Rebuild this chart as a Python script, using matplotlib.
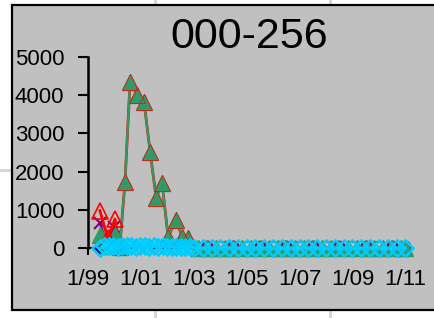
import numpy as np
import matplotlib
matplotlib.use("Agg")
import matplotlib.pyplot as plot
from matplotlib.patches import Rectangle
from matplotlib.lines import Line2D

TITLE = "000-256"
X_TICKS = [1999, 2001, 2003, 2005, 2007, 2009, 2011]
X_TICK_LABELS = ["1/99", "1/01", "1/03", "1/05", "1/07", "1/09", "1/11"]
Y_TICKS = [0, 1000, 2000, 3000, 4000, 5000]

# dates as decimal years
early_dates = [1999.45, 1999.62, 1999.79, 1999.96, 2000.13, 2000.3, 2000.47, 2000.64,
               2000.81, 2000.98, 2001.15, 2001.32, 2001.49, 2001.66, 2001.83, 2002.0,
               2002.17, 2002.34, 2002.51, 2002.68, 2002.85, 2003.02]
late_dates = [2003.33, 2003.67, 2004.0, 2004.33, 2004.67, 2005.0, 2005.33, 2005.67,
              2006.0, 2006.33, 2006.67, 2007.0, 2007.33, 2007.67, 2008.0, 2008.33,
              2008.67, 2009.0, 2009.33, 2009.67, 2010.0, 2010.33, 2010.67, 2011.0]
late_dates_green = [2003.17, 2003.5, 2003.83, 2004.17, 2004.5, 2004.83, 2005.17, 2005.5,
                    2005.83, 2006.17, 2006.5, 2006.83, 2007.17, 2007.5, 2007.83, 2008.17,
                    2008.5, 2008.83, 2009.17, 2009.5, 2009.83, 2010.17, 2010.5, 2010.83, 2011.0]

navy_x = early_dates[:6]
navy_y = [0] * len(navy_x)

purple_x = [1999.45, 1999.7, 2000.0, 2000.2, 2000.45, 2000.7, 2000.95, 2001.2, 2001.45,
            2001.7, 2001.95, 2002.2, 2002.45, 2002.7, 2002.95,
            2003.5, 2004.0, 2004.5, 2005.0, 2005.5, 2006.0, 2006.5, 2007.0, 2007.5,
            2008.0, 2008.5, 2009.0, 2009.5, 2010.0, 2010.5, 2011.0]
purple_y = [650, 150, 560, 40, 20, 10, 10, 0, 10, 0, 10, 0, 10, 0, 0,
            60, 60, 60, 60, 60, 60, 60, 60, 60, 60, 60, 60, 60, 60, 60, 60]

green_x = [1999.45, 1999.75, 2000.02, 2000.2, 2000.4, 2000.59, 2000.86, 2001.12, 2001.35,
           2001.58, 2001.8, 2002.03, 2002.33, 2002.56, 2002.79] + late_dates_green
green_y = [340, 40, 340, 30, 1730, 4350, 4000, 3820, 2510, 1300, 1700, 290, 730, 290, 260] \
    + [0] * len(late_dates_green)

red_x = green_x
red_y = [980, 250, 760] + green_y[3:]

cyan_x = early_dates + late_dates
cyan_y = [0, 40, 60, 40, 30, 60, 40, 50, 30, 50, 40, 30, 40, 30, 40, 30,
          30, 20, 30, 20, 20, 10] + [0] * len(late_dates)

W, H = 434, 318
fig = plot.figure(figsize=(W / 100, H / 100), dpi=100)
fig.patch.set_facecolor("white")

# spreadsheet gridlines behind the chart
grid_c = "#d4d4d4"
for gx in (155, 330):
    fig.add_artist(Line2D([gx / W, gx / W], [0, 1], transform=fig.transFigure, color=grid_c, lw=2, zorder=0))
fig.add_artist(Line2D([0, 1], [1 - 170 / H, 1 - 170 / H], transform=fig.transFigure, color=grid_c, lw=2, zorder=0))

# chart area
fig.add_artist(Rectangle((12 / W, 1 - 310 / H), 1.2, (310 - 5) / H, transform=fig.transFigure,
                         facecolor="#c0c0c0", edgecolor="black", lw=1.6, zorder=1))

ax = fig.add_axes([88 / W, 1 - 248 / H, (408 - 88) / W, (248 - 57) / H])
ax.set_zorder(2)
ax.patch.set_visible(False)

ax.plot(navy_x, navy_y, color="#000080", lw=1.0, marker="D", ms=6, mfc="#000080", mec="#000080",
        markevery=[0], clip_on=False, zorder=3)

# purple: crosses at the start, dotted run, then open circles with no line
ax.plot(purple_x[:15], purple_y[:15], color="#800080", lw=1.5, ls=":", clip_on=False, zorder=3)
ax.plot(purple_x[:4], purple_y[:4], color="#800080", lw=1.5, marker="x", ms=9, mew=1.5, clip_on=False, zorder=3)
ax.plot(purple_x[15:], purple_y[15:], ls="none", marker="o", ms=7, mfc="none", mec="#800080", mew=1.5,
        clip_on=False, zorder=3)

ax.plot(red_x, red_y, color="#ff0000", lw=2.0, clip_on=False, zorder=3)
ax.plot(green_x, green_y, color="#339966", lw=1.7, marker="^", ms=12, mfc="#339966", mec="#339966",
        clip_on=False, zorder=3)
ax.plot(red_x[:3], red_y[:3], ls="none", marker="^", ms=12, mfc="none", mec="#ff0000", mew=1.2, clip_on=False, zorder=3)
ax.plot(red_x[3:15], red_y[3:15], ls="none", marker="^", ms=12, mfc="none", mec="#ff0000", mew=0.5,
        clip_on=False, zorder=3)

ax.plot(cyan_x, cyan_y, color="#00ccff", lw=2.0, marker="D", ms=8, mfc="none", mec="#00ccff", mew=1.8,
        clip_on=False, zorder=3)

ax.set_xlim(1999, 2011.1)
ax.set_ylim(0, 5000)
ax.set_xticks(X_TICKS)
ax.set_xticklabels(X_TICK_LABELS)
ax.set_yticks(Y_TICKS)
ax.set_yticklabels([str(v) for v in Y_TICKS])
for s in ("top", "right"):
    ax.spines[s].set_visible(False)
ax.spines["left"].set_linewidth(1.8)
ax.spines["bottom"].set_linewidth(1.5)
ax.spines["bottom"].set_zorder(2)
ax.tick_params(axis="y", direction="out", length=7, width=1.5, pad=10, labelsize=16)
ax.tick_params(axis="x", direction="out", length=5, width=1.5, pad=10, labelsize=16)
for lab in ax.get_xticklabels() + ax.get_yticklabels():
    lab.set_fontfamily("Liberation Sans")

fig.text(249 / W, 1 - 37 / H, TITLE, ha="center", va="center", fontsize=31, fontfamily="Liberation Sans")

fig.savefig("out.png", dpi=100)
